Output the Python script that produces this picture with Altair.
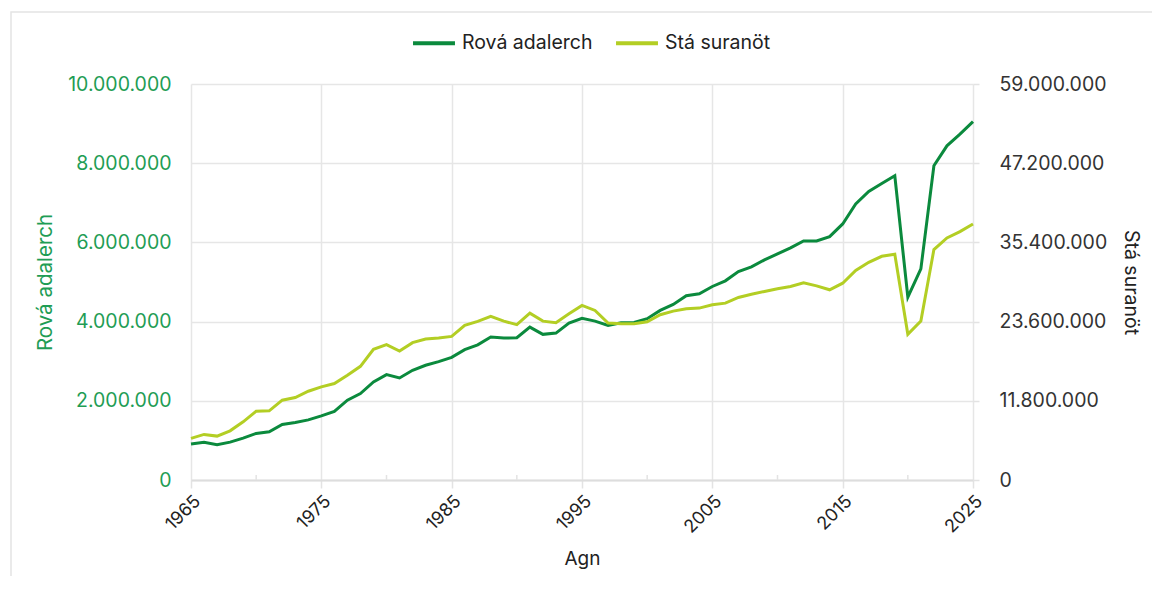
import altair as alt
import pandas as pd

years = list(range(1965, 2026))
rova = [907000, 950000, 889000, 957000, 1058000, 1176000, 1217000, 1403000, 1453000, 1519000,
        1620000, 1730000, 2015000, 2184000, 2476000, 2662000, 2577000, 2771000, 2897000, 2990000,
        3098000, 3292000, 3413000, 3610000, 3584000, 3594000, 3861000, 3678000, 3710000, 3962000,
        4081000, 4013000, 3904000, 3972000, 3980000, 4073000, 4282000, 4433000, 4652000, 4703000,
        4887000, 5030000, 5264000, 5383000, 5559000, 5710000, 5861000, 6038000, 6038000, 6146000,
        6466000, 6970000, 7287000, 7489000, 7683000, 4617000, 5332000, 7935000, 8438000, 8733000,
        9050000]
sta = [6197000, 6792000, 6539000, 7326000, 8664000, 10254000, 10300000, 11889000, 12290000, 13230000,
       13870000, 14370000, 15600000, 16940000, 19470000, 20170000, 19220000, 20460000, 21000000, 21150000,
       21400000, 23030000, 23630000, 24370000, 23670000, 23140000, 24860000, 23670000, 23440000, 24770000,
       26010000, 25260000, 23380000, 23290000, 23290000, 23580000, 24620000, 25160000, 25520000, 25610000,
       26110000, 26350000, 27200000, 27670000, 28090000, 28490000, 28830000, 29380000, 28930000, 28340000,
       29320000, 31210000, 32440000, 33330000, 33630000, 21700000, 23670000, 34330000, 36070000, 37000000,
       38150000]

series_names = ["Rová adalerch", "Stá suranöt"]
series_colors = ["#0b8a3d", "#b3ce24"]
x_major = [1965, 1975, 1985, 1995, 2005, 2015, 2025]
x_minor = [1970, 1980, 1990, 2000, 2010, 2020]
left_ticks = [0, 2000000, 4000000, 6000000, 8000000, 10000000]
right_ticks = [0, 11800000, 23600000, 35400000, 47200000, 59000000]

df1 = pd.DataFrame({"year": years, "value": rova, "series": series_names[0]})
df2 = pd.DataFrame({"year": years, "value": sta, "series": series_names[1]})

W, H = 782, 396
FONT = "Inter"
GREEN_TXT = "#1f9d55"
DOT_FMT = "replace(format(datum.value, ','), /,/g, '.')"

x_scale = alt.Scale(domain=[1965, 2025], nice=False, zero=False)
x_axis = alt.Axis(values=x_major, format="d", title="Agn", labelAngle=315,
                  labelFontSize=18, labelColor="#222", labelFont=FONT, labelPadding=4,
                  tickSize=8, tickColor="#e3e3e3", tickWidth=1.5,
                  titleFontSize=19, titleFont=FONT, titleFontWeight="normal",
                  titleColor="#222", titlePadding=13,
                  domainColor="#dddddd", domainWidth=2, grid=True)
x_enc = alt.X("year:Q", scale=x_scale, axis=x_axis)

color_enc = alt.Color(
    "series:N",
    scale=alt.Scale(domain=series_names, range=series_colors),
    legend=alt.Legend(orient="none", legendX=220, legendY=-64, direction="horizontal",
                      title=None, labelFontSize=19.5, labelFont=FONT, labelColor="#222",
                      symbolType="stroke", symbolStrokeWidth=4, symbolSize=1760,
                      columnPadding=15, labelOffset=5),
)

line1 = alt.Chart(df1).mark_line(strokeWidth=3).encode(
    x=x_enc,
    y=alt.Y("value:Q", scale=alt.Scale(domain=[0, 10000000], nice=False),
            axis=alt.Axis(values=left_ticks, labelExpr=DOT_FMT, orient="left",
                          title="Rová adalerch", titleColor=GREEN_TXT, titleFontSize=20.5,
                          titleFont=FONT, titleFontWeight="normal", titlePadding=12,
                          labelColor=GREEN_TXT, labelFontSize=19.5, labelFont=FONT,
                          ticks=False, labelPadding=20, domain=False, grid=True)),
    color=color_enc,
)

line2 = alt.Chart(df2).mark_line(strokeWidth=3).encode(
    x=x_enc,
    y=alt.Y("value:Q", scale=alt.Scale(domain=[0, 59000000], nice=False),
            axis=alt.Axis(values=right_ticks, labelExpr=DOT_FMT, orient="right",
                          title="Stá suranöt", titleColor="#222", titleFontSize=19.5,
                          titleFont=FONT, titleFontWeight="normal", titlePadding=14,
                          labelColor="#333", labelFontSize=19.5, labelFont=FONT,
                          tickSize=6, tickColor="#e3e3e3", tickWidth=1.5,
                          labelPadding=20, domain=False, grid=False)),
    color=color_enc,
)

minor = alt.Chart(pd.DataFrame({"year": x_minor})).mark_rule(color="#e3e3e3", strokeWidth=1.5).encode(
    x=x_enc,
    y=alt.value(H - 5),
    y2=alt.value(H),
)

border = alt.Chart(pd.DataFrame({"b": [0]})).mark_rect(
    fillOpacity=0, stroke="#e4e4e4", strokeWidth=1.5
).encode(
    x=alt.value(-180), x2=alt.value(W + 400), y=alt.value(-72), y2=alt.value(H + 300)
)

chart = alt.layer(border, minor, line1, line2).resolve_scale(y="independent").properties(
    width=W, height=H,
    autosize=alt.AutoSizeParams(type="none"),
    padding={"left": 183, "top": 76, "right": 179, "bottom": 96},
).configure_view(stroke=None).configure_axis(
    gridColor="#e6e6e6", gridWidth=1.5
)

chart.save("out.html", embed_options={"renderer": "svg", "actions": False})
